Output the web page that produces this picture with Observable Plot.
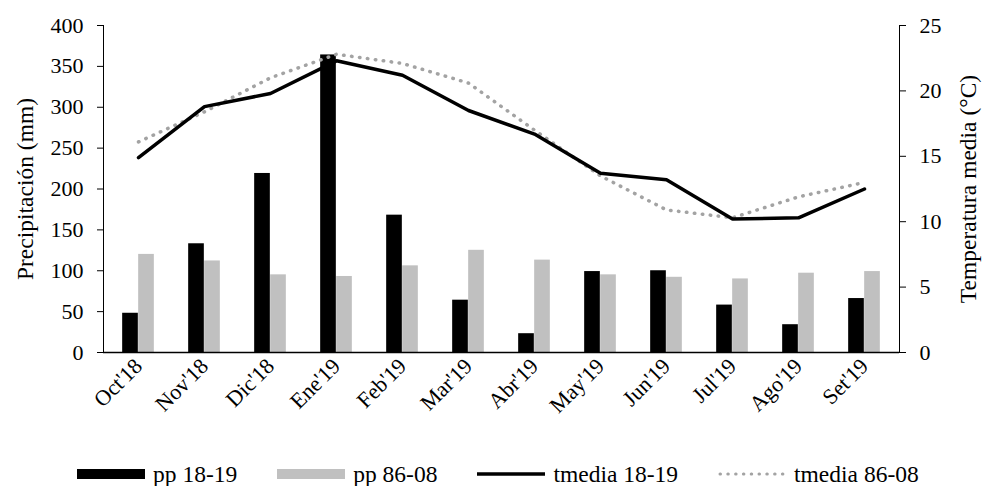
<!DOCTYPE html>
<html>
<head>
<meta charset="utf-8">
<script src="https://cdn.jsdelivr.net/npm/d3@7"></script>
<script src="https://cdn.jsdelivr.net/npm/@observablehq/plot@0.6"></script>
<style>
  html, body { margin: 0; padding: 0; background: #fff; }
  #chart { width: 983px; height: 445px; }
  .legend { width: 983px; height: 41px; box-sizing: border-box; padding-left: 77px; padding-top: 17px; display: flex; justify-content: flex-start; align-items: center; font-family: 'Liberation Serif', 'Times New Roman', Times, 'DejaVu Serif', serif; font-size: 23.5px; color: #000; line-height: 24px; }
  .item { display: flex; align-items: center; margin-right: 40px; white-space: nowrap; }
  .sw { display: inline-block; width: 68px; height: 10px; margin-right: 8px; flex: none; }
</style>
</head>
<body>
<div id="chart"></div>
<div class="legend">
  <span class="item"><span class="sw" style="background:#000"></span>pp 18-19</span>
  <span class="item"><span class="sw" style="background:#c0c0c0"></span>pp 86-08</span>
  <span class="item"><svg class="sw" width="68" height="10"><line x1="0" x2="68" y1="5" y2="5" stroke="#000" stroke-width="3.5"/></svg>tmedia 18-19</span>
  <span class="item"><svg class="sw" width="68" height="10"><line x1="2" x2="68" y1="5" y2="5" stroke="#a3a3a3" stroke-width="3" stroke-linecap="round" stroke-dasharray="0.5 7.3"/></svg>tmedia 86-08</span>
</div>
<script>
const months = ["Oct'18","Nov'18","Dic'18","Ene'19","Feb'19","Mar'19","Abr'19","May'19","Jun'19","Jul'19","Ago'19","Set'19"];
const pp1819 = [48,133,219,364,168,64,23,99,100,58,34,66];
const pp8608 = [120,112,95,93,106,125,113,95,92,90,97,99];
const tmedia1819 = [14.9,18.8,19.8,22.3,21.2,18.5,16.7,13.7,13.2,10.2,10.3,12.5];
const tmedia8608 = [16.1,18.4,21.0,22.8,22.1,20.6,17.0,13.5,10.9,10.3,11.9,13.0];
const ppTicks = [0,50,100,150,200,250,300,350,400];
const tTicks = [0,5,10,15,20,25];

const W = 983, H = 445, ML = 103, MR = 84, MT = 25, MB = 93;
const k = 400 / 25; // temperature -> precipitation axis factor
const bw = (W - ML - MR) / months.length;
const half = 16;
const FONT = "'Liberation Serif', 'Times New Roman', Times, 'DejaVu Serif', serif";

const rows = months.map((m, i) => ({month: m, pp1819: pp1819[i], pp8608: pp8608[i], t1819: tmedia1819[i] * k, t8608: tmedia8608[i] * k}));

const chart = Plot.plot({
  width: W, height: H,
  marginLeft: ML, marginRight: MR, marginTop: MT, marginBottom: MB,
  style: {fontFamily: FONT, fontSize: "22px", color: "#000", background: "#fff", overflow: "visible"},
  x: {type: "band", domain: months, padding: 0, label: null},
  y: {domain: [0, 400], label: null},
  marks: [
    Plot.barY(rows, {x: "month", y: "pp1819", fill: "#000", insetLeft: bw / 2 - half, insetRight: bw / 2}),
    Plot.barY(rows, {x: "month", y: "pp8608", fill: "#c0c0c0", insetLeft: bw / 2, insetRight: bw / 2 - half}),
    Plot.line(rows, {x: "month", y: "t8608", stroke: "#a3a3a3", strokeWidth: 3.5, strokeLinecap: "round", strokeDasharray: "0.5 7.5"}),
    Plot.line(rows, {x: "month", y: "t1819", stroke: "#000", strokeWidth: 3.5, strokeLinejoin: "miter"}),
    Plot.ruleY([0], {stroke: "#000", strokeWidth: 1.5}),
    Plot.frame({anchor: "left", stroke: "#000"}),
    Plot.frame({anchor: "right", stroke: "#000"}),
    Plot.axisY(ppTicks, {anchor: "left", tickSize: 6, tickPadding: 14, label: null, fontFamily: FONT, fontSize: 22}),
    Plot.axisY(tTicks.map(t => t * k), {anchor: "right", tickSize: 6, tickPadding: 14, tickFormat: d => String(d / k), label: null, fontFamily: FONT, fontSize: 22}),
    Plot.axisX({tickSize: 0, tickRotate: -45, tickPadding: 10, label: null, fontFamily: FONT, fontSize: 22}),
    Plot.text(["Precipitación (mm)"], {frameAnchor: "left", dx: -78, rotate: -90, textAnchor: "middle", fontSize: 23.5, fontFamily: FONT}),
    Plot.text(["Temperatura media (°C)"], {frameAnchor: "right", dx: 69, rotate: -90, textAnchor: "middle", fontSize: 23.5, fontFamily: FONT})
  ]
});
document.getElementById("chart").appendChild(chart);
</script>
</body>
</html>
